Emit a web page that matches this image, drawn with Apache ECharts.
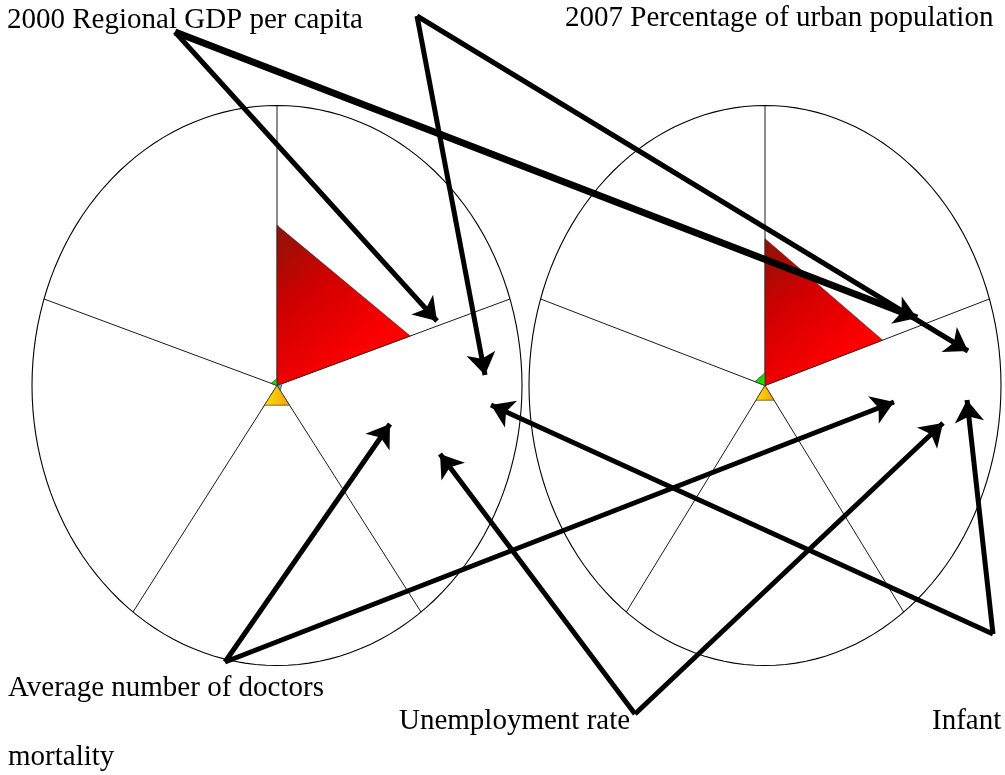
<!DOCTYPE html>
<html>
<head>
    <meta charset="utf-8">
    <script src="https://cdn.jsdelivr.net/npm/echarts@6/dist/echarts.min.js"></script>
    <style>
        html, body { margin: 0; padding: 0; background: #fff; }
        #main { width: 1005px; height: 775px; }
    </style>
</head>
<body>
<div id="main"></div>
<script>
    // sectors clockwise from the top spoke, radius as share of the ellipse
    var sectorNames = ['s1', 's2', 's3', 's4', 's5'];
    var leftValues = [0.572, 0.022, 0.087, 0, 0.025];
    var rightValues = [0.524, 0, 0.065, 0, 0.045];

    // annotation texts and where they sit on the page (x, top of text)
    var labelTexts = ['2000 Regional GDP per capita', '2007 Percentage of urban population',
        'Average number of doctors', 'Unemployment rate', 'Infant', 'mortality'];
    var labelX = [7, 565, 8, 399, 932, 8];
    var labelY = [6, 4, 674, 707, 707, 743];

    // arrows: start point -> tip, page units
    var arrowFrom = [[175, 32], [175, 32], [417, 16], [417, 16], [225, 662], [225, 662],
        [635, 714], [635, 714], [993, 634], [993, 634]];
    var arrowTo = [[437, 321], [917, 318], [485, 375], [968, 351], [390, 424], [894, 402],
        [440, 454], [943, 423], [491, 405], [967, 400]];
    var arrowWidth = [5, 7, 5, 5, 5, 5, 5, 5, 5, 5];

    var sectorColors = [
        {type: 'linear', x: 0, y: 0, x2: 0.75, y2: 0.75, colorStops: [
            {offset: 0, color: '#8a1508'}, {offset: 0.45, color: '#d00000'}, {offset: 1, color: '#ff0000'}]},
        {type: 'linear', x: 0, y: 0, x2: 1, y2: 0, colorStops: [
            {offset: 0, color: '#2aa0d0'}, {offset: 1, color: '#60c8e0'}]},
        {type: 'linear', x: 0, y: 0, x2: 1, y2: 0, colorStops: [
            {offset: 0, color: '#ffe400'}, {offset: 1, color: '#f0a010'}]},
        '#999999',
        {type: 'linear', x: 0, y: 0, x2: 1, y2: 1, colorStops: [
            {offset: 0, color: '#10c010'}, {offset: 1, color: '#30e000'}]}
    ];

    var font = "'Liberation Serif', 'Times New Roman', serif";

    function rad(d) { return d * Math.PI / 180; }

    function renderFrame(params, api) {
        var pts = [];
        for (var k = 0; k <= 144; k++) {
            var t = k / 144 * 2 * Math.PI;
            pts.push(api.coord([Math.cos(t), Math.sin(t)]));
        }
        var c = api.coord([0, 0]);
        var children = [{
            type: 'polygon', shape: {points: pts},
            style: {fill: '#fff', stroke: '#000', lineWidth: 1.1}
        }];
        for (var i = 0; i < 5; i++) {
            var a = rad(90 - 72 * i);
            var e = api.coord([Math.cos(a), Math.sin(a)]);
            children.push({
                type: 'line', shape: {x1: c[0], y1: c[1], x2: e[0], y2: e[1]},
                style: {stroke: '#000', lineWidth: 0.9}
            });
        }
        return {type: 'group', children: children};
    }

    function renderSector(params, api) {
        var i = api.value(0);
        var r = api.value(1);
        if (!r) return;
        var a0 = rad(90 - 72 * i), a1 = rad(90 - 72 * (i + 1));
        var pts = [api.coord([0, 0]),
            api.coord([r * Math.cos(a0), r * Math.sin(a0)]),
            api.coord([r * Math.cos(a1), r * Math.sin(a1)])];
        return {
            type: 'polygon', shape: {points: pts},
            style: {fill: sectorColors[i], stroke: '#222', lineWidth: 0.6}
        };
    }

    function renderLabel(params, api) {
        var p = api.coord([api.value(0), api.value(1)]);
        return {
            type: 'text', x: p[0], y: p[1],
            style: {text: labelTexts[params.dataIndex], fill: '#000',
                font: '29px ' + font, textAlign: 'left', textVerticalAlign: 'top'}
        };
    }

    var chart = echarts.init(document.getElementById('main'));

    var option = {
        animation: false,
        backgroundColor: '#fff',
        grid: [
            {left: 32, top: 105.5, width: 490, height: 560},
            {left: 529, top: 105.5, width: 472, height: 560},
            {left: 0, top: 0, width: 1005, height: 775}
        ],
        xAxis: [
            {gridIndex: 0, type: 'value', min: -1, max: 1, show: false},
            {gridIndex: 1, type: 'value', min: -1, max: 1, show: false},
            {gridIndex: 2, type: 'value', min: 0, max: 1005, show: false}
        ],
        yAxis: [
            {gridIndex: 0, type: 'value', min: -1, max: 1, show: false},
            {gridIndex: 1, type: 'value', min: -1, max: 1, show: false},
            {gridIndex: 2, type: 'value', min: 0, max: 775, inverse: true, show: false}
        ],
        series: [
            {type: 'custom', xAxisIndex: 0, yAxisIndex: 0, renderItem: renderFrame, data: [[0, 0]], z: 1},
            {type: 'custom', xAxisIndex: 1, yAxisIndex: 1, renderItem: renderFrame, data: [[0, 0]], z: 1},
            {
                type: 'custom', xAxisIndex: 0, yAxisIndex: 0, renderItem: renderSector, z: 2,
                data: leftValues.map(function (v, i) { return [i, v]; })
            },
            {
                type: 'custom', xAxisIndex: 1, yAxisIndex: 1, renderItem: renderSector, z: 2,
                data: rightValues.map(function (v, i) { return [i, v]; })
            },
            {
                type: 'custom', xAxisIndex: 2, yAxisIndex: 2, renderItem: renderLabel, z: 3,
                data: labelX.map(function (x, i) { return [x, labelY[i]]; })
            },
            {
                type: 'lines', coordinateSystem: 'cartesian2d', xAxisIndex: 2, yAxisIndex: 2, z: 4,
                symbol: ['none', 'arrow'], symbolSize: 22,
                lineStyle: {color: '#000', opacity: 1},
                data: arrowFrom.map(function (s, i) {
                    return {coords: [s, arrowTo[i]], lineStyle: {width: arrowWidth[i]}};
                })
            }
        ]
    };

    chart.setOption(option);
</script>
</body>
</html>
